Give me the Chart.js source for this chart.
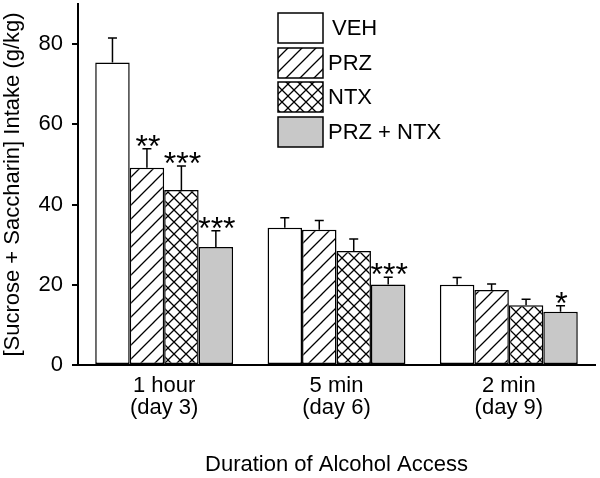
<!DOCTYPE html>
<html>
<head>
<meta charset="utf-8">
<script src="https://cdn.jsdelivr.net/npm/chart.js@4/dist/chart.umd.min.js"></script>
<style>
  html, body { margin: 0; padding: 0; background: #fff; }
</style>
</head>
<body>
<canvas id="grafico" width="600" height="478"></canvas>
<script>
const categorias = [["1 hour", "(day 3)"], ["5 min", "(day 6)"], ["2 min", "(day 9)"]];
const nomes = ["VEH", "PRZ", "NTX", "PRZ + NTX"];

const veh      = [75.4, 34.2, 20.0];
const vehErr   = [6.1, 2.5, 1.8];
const prz      = [49.2, 33.7, 18.7];
const przErr   = [4.7, 2.3, 1.5];
const ntx      = [43.6, 28.4, 14.9];
const ntxErr   = [6.0, 3.0, 1.5];
const combo    = [29.4, 20.1, 13.3];
const comboErr = [4.1, 1.8, 1.5];

const vehSig   = ["", "", ""];
const przSig   = ["**", "", ""];
const ntxSig   = ["***", "", ""];
const comboSig = ["***", "***", "*"];

const yTicks = [0, 20, 40, 60, 80];
const FONTE = "'Liberation Sans', Arial, sans-serif";

// ─── PADRÕES DE HACHURA ──────────────────────────────────────────────────────

function padraoDiagonal(tam) {
  const c = document.createElement("canvas");
  c.width = tam; c.height = tam;
  const g = c.getContext("2d");
  g.fillStyle = "#fff";
  g.fillRect(0, 0, tam, tam);
  g.strokeStyle = "#000";
  g.lineWidth = 1.3;
  g.beginPath();
  g.moveTo(-1, tam + 1); g.lineTo(tam + 1, -1);
  g.moveTo(-1, 1); g.lineTo(1, -1);
  g.moveTo(tam - 1, tam + 1); g.lineTo(tam + 1, tam - 1);
  g.stroke();
  return g.createPattern(c, "repeat");
}

function padraoCruzado(tam) {
  const c = document.createElement("canvas");
  c.width = tam; c.height = tam;
  const g = c.getContext("2d");
  g.fillStyle = "#fff";
  g.fillRect(0, 0, tam, tam);
  g.strokeStyle = "#000";
  g.lineWidth = 1.3;
  g.beginPath();
  g.moveTo(-1, tam + 1); g.lineTo(tam + 1, -1);
  g.moveTo(-1, -1); g.lineTo(tam + 1, tam + 1);
  g.stroke();
  return g.createPattern(c, "repeat");
}

const preenchimentos = ["#ffffff", padraoDiagonal(14), padraoCruzado(12), "#c8c8c8"];

// ─── PLUGINS ─────────────────────────────────────────────────────────────────

const barrasErro = {
  id: "barrasErro",
  afterDatasetsDraw(chart) {
    const { ctx, scales: { y } } = chart;
    ctx.save();
    ctx.strokeStyle = "#000";
    ctx.lineWidth = 1.5;
    chart.data.datasets.forEach((ds, i) => {
      const meta = chart.getDatasetMeta(i);
      meta.data.forEach((bar, j) => {
        const topo = y.getPixelForValue(ds.data[j] + ds.erros[j]);
        ctx.beginPath();
        ctx.moveTo(bar.x, bar.y);
        ctx.lineTo(bar.x, topo);
        ctx.moveTo(bar.x - 4.5, topo);
        ctx.lineTo(bar.x + 4.5, topo);
        ctx.stroke();

        const sig = ds.sig[j];
        if (sig) {
          ctx.fillStyle = "#000";
          ctx.font = "32px " + FONTE;
          ctx.textAlign = "center";
          ctx.textBaseline = "alphabetic";
          ctx.fillText(sig, bar.x + 1, topo + 8);
        }
      });
    });
    ctx.restore();
  }
};

const legendaCaixas = {
  id: "legendaCaixas",
  afterDraw(chart) {
    const ctx = chart.ctx;
    const x = 278, w = 45, h = 30;
    const ys = [13, 48, 82, 117];
    ctx.save();
    chart.data.datasets.forEach((ds, i) => {
      ctx.fillStyle = ds.backgroundColor;
      ctx.fillRect(x, ys[i], w, h);
      ctx.strokeStyle = "#000";
      ctx.lineWidth = 1.5;
      ctx.strokeRect(x, ys[i], w, h);
      ctx.fillStyle = "#000";
      ctx.font = "22px " + FONTE;
      ctx.textAlign = "left";
      ctx.textBaseline = "middle";
      ctx.fillText(ds.label, i === 0 ? x + 54 : x + 50, ys[i] + h / 2 + 1);
    });
    ctx.restore();
  }
};

// ─── GRÁFICO ─────────────────────────────────────────────────────────────────

const series = [
  { dados: veh,   erros: vehErr,   sig: vehSig },
  { dados: prz,   erros: przErr,   sig: przSig },
  { dados: ntx,   erros: ntxErr,   sig: ntxSig },
  { dados: combo, erros: comboErr, sig: comboSig }
];

const datasets = series.map((s, i) => ({
  label: nomes[i],
  data: s.dados,
  erros: s.erros,
  sig: s.sig,
  backgroundColor: preenchimentos[i],
  borderColor: "#000",
  borderWidth: 1.5,
  borderSkipped: false,
  categoryPercentage: 0.8,
  barPercentage: 1.0
}));

Chart.defaults.font.family = FONTE;
Chart.defaults.color = "#000";

new Chart(document.getElementById("grafico").getContext("2d"), {
  type: "bar",
  data: { labels: categorias, datasets },
  options: {
    responsive: false,
    animation: false,
    events: [],
    layout: { padding: { top: 4, right: 5, left: 0, bottom: 0 } },
    plugins: {
      legend: { display: false },
      tooltip: { enabled: false }
    },
    scales: {
      x: {
        grid: { display: false, drawTicks: false },
        border: { display: true, color: "#000", width: 2 },
        ticks: { font: { size: 22, lineHeight: 1.0 }, color: "#000", padding: 10, maxRotation: 0 },
        title: {
          display: true,
          text: "Duration of Alcohol Access",
          font: { size: 22 },
          color: "#000",
          padding: { top: 0, bottom: 0 }
        },
        afterFit: s => { s.height = 113; s.paddingLeft = 0; s.paddingRight = 0; }
      },
      y: {
        min: 0,
        max: 90,
        grid: { display: true, drawOnChartArea: false, drawTicks: true, tickLength: 6, color: "#000", lineWidth: 2 },
        border: { display: true, color: "#000", width: 2 },
        ticks: { font: { size: 22 }, color: "#000", padding: 9, stepSize: 20 },
        afterBuildTicks: s => { s.ticks = yTicks.map(v => ({ value: v })); },
        title: {
          display: true,
          text: "[Sucrose + Saccharin] Intake (g/kg)",
          font: { size: 22 },
          color: "#000",
          padding: { top: 0, bottom: 0 }
        },
        afterFit: s => { s.width = 78; s.paddingTop = 0; s.paddingBottom = 0; }
      }
    }
  },
  plugins: [barrasErro, legendaCaixas]
});
</script>
</body>
</html>
